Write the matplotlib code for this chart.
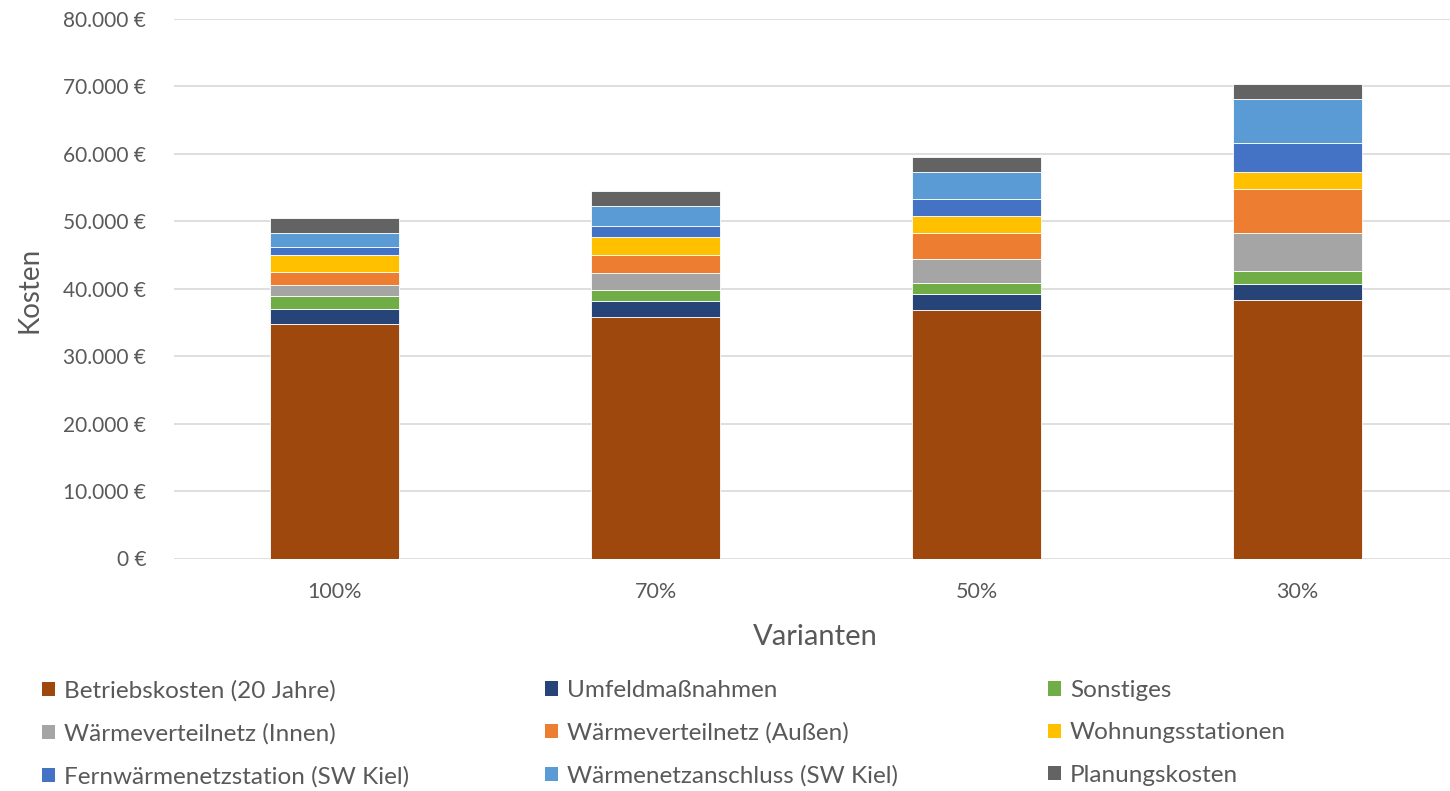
import matplotlib
matplotlib.use("Agg")
import matplotlib.pyplot as plt
from matplotlib.patches import Patch
from matplotlib.ticker import FuncFormatter

plt.rcParams['font.family'] = ['Lato', 'DejaVu Sans']

varianten = ["100%", "70%", "50%", "30%"]
betriebskosten = [34750, 35830, 36870, 38400]
umfeldmassnahmen = [2300, 2330, 2330, 2370]
sonstiges = [1850, 1720, 1720, 1840]
verteilnetz_innen = [1600, 2430, 3520, 5680]
verteilnetz_aussen = [2000, 2760, 3810, 6490]
wohnungsstationen = [2450, 2590, 2570, 2560]
fernwaermestation = [1250, 1670, 2520, 4310]
netzanschluss = [2050, 2930, 3960, 6530]
planungskosten = [2200, 2270, 2220, 2180]

series = [
    ("Betriebskosten (20 Jahre)", betriebskosten, "#9E480E"),
    ("Umfeldmaßnahmen", umfeldmassnahmen, "#264478"),
    ("Sonstiges", sonstiges, "#70AD47"),
    ("Wärmeverteilnetz (Innen)", verteilnetz_innen, "#A5A5A5"),
    ("Wärmeverteilnetz (Außen)", verteilnetz_aussen, "#ED7D31"),
    ("Wohnungsstationen", wohnungsstationen, "#FFC000"),
    ("Fernwärmenetzstation (SW Kiel)", fernwaermestation, "#4472C4"),
    ("Wärmenetzanschluss (SW Kiel)", netzanschluss, "#5B9BD5"),
    ("Planungskosten", planungskosten, "#636363"),
]

text_color = "#595959"
W, H = 1450, 791
fig = plt.figure(figsize=(W / 100, H / 100), dpi=100)
ax = fig.add_axes([174 / W, 1 - 558.5 / H, (1450 - 174) / W, (558.5 - 19) / H])

x = list(range(len(varianten)))
bottom = [0.0] * len(varianten)
for name, vals, col in series:
    ax.bar(x, vals, width=0.4, bottom=bottom, color=col, edgecolor="white",
           linewidth=0.6, label=name, zorder=3)
    bottom = [b + v for b, v in zip(bottom, vals)]

ax.set_xlim(-0.5, -0.5 + (1450 - 174) / 321)
ax.set_ylim(0, 80000)
ax.set_yticks(range(0, 80001, 10000))
ax.yaxis.set_major_formatter(FuncFormatter(
    lambda v, p: f"{int(v):,} €".replace(",", ".")))
ax.set_xticks(x)
ax.set_xticklabels(varianten)
ax.grid(axis="y", color="#D9D9D9", linewidth=1.2, zorder=0)
for s in ax.spines.values():
    s.set_visible(False)
ax.tick_params(axis="both", length=0, labelsize=15, colors=text_color)
ax.tick_params(axis="x", labelsize=15.5, pad=17)
ax.tick_params(axis="y", pad=20)

fig.text(30 / W, 1 - 290 / H, "Kosten", rotation=90, ha="center", va="center",
         fontsize=20, color=text_color)
fig.text(815 / W, 1 - 637 / H, "Varianten", ha="center", va="center",
         fontsize=21, color=text_color)

# legend laid out row-wise in three columns
col_x = [42, 545, 1048]
for c in range(3):
    items = [series[r * 3 + c] for r in range(3)]
    handles = [Patch(facecolor=col, edgecolor="none") for _, _, col in items]
    labels = [name for name, _, _ in items]
    leg = fig.legend(handles, labels, loc="upper left",
                     bbox_to_anchor=(col_x[c] / W, 1 - 680 / H),
                     frameon=False, fontsize=17.5, handlelength=0.53,
                     handleheight=0.53, handletextpad=0.37, labelspacing=0.88,
                     borderaxespad=0, borderpad=0)
    for t in leg.get_texts():
        t.set_color(text_color)

fig.savefig("out.png", dpi=100)
